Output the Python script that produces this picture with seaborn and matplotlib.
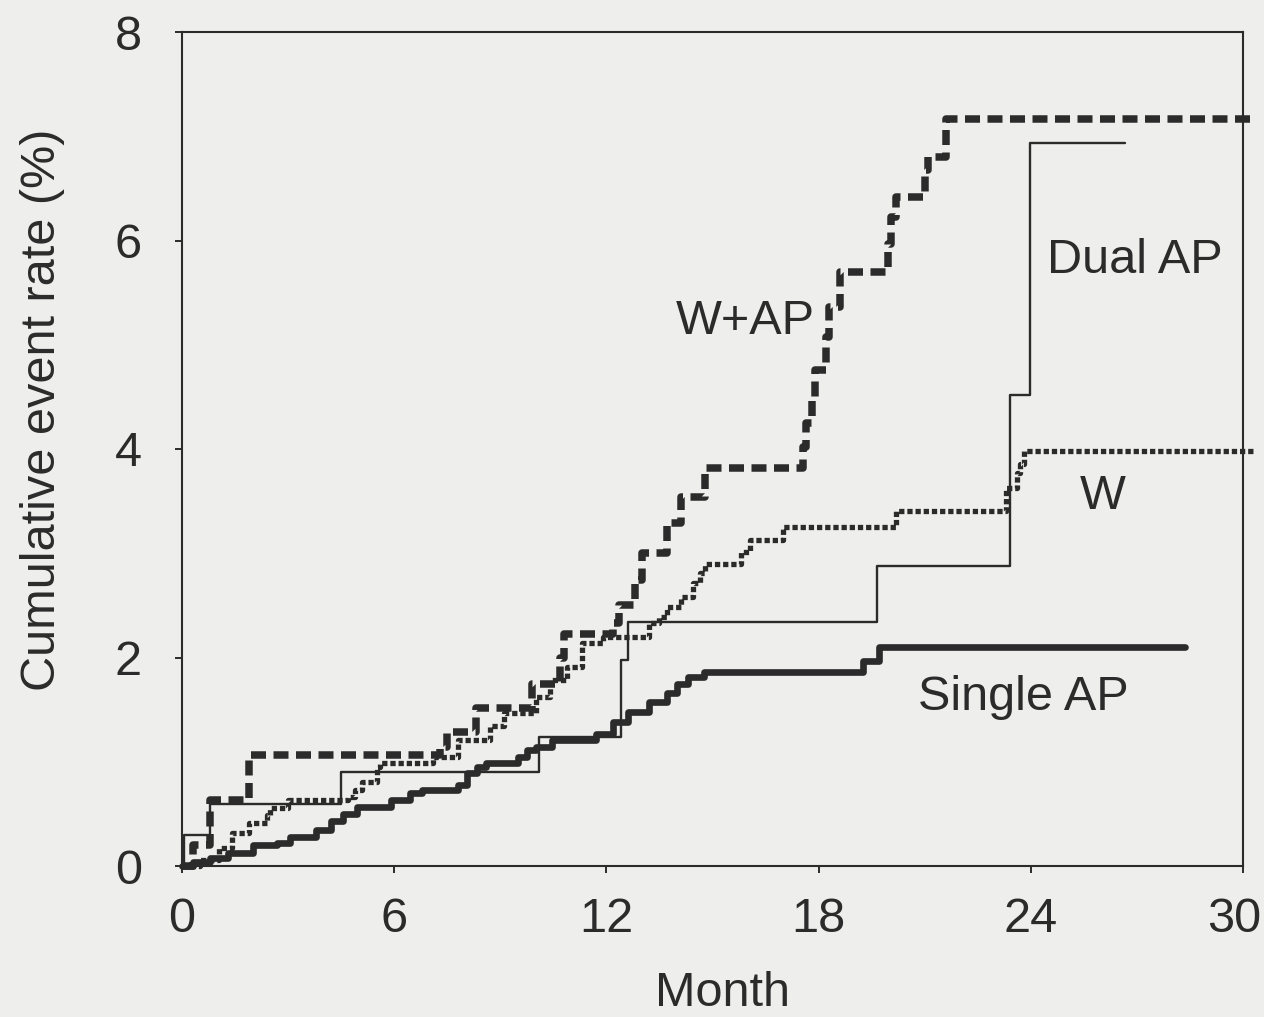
import matplotlib
matplotlib.use("Agg")
import matplotlib.pyplot as plt
import matplotlib.transforms as mtransforms
import seaborn as sns
import pandas as pd

# ---- data ----
wap_month = [0, 0.3, 0.8, 1.9, 7.3, 7.5, 8.3, 9.9, 10.7, 10.8, 12.2, 12.35, 12.8, 13.0,
             13.7, 14.1, 14.8, 17.55, 17.65, 17.8, 17.9, 18.2, 18.3, 18.6, 19.95, 20.05,
             20.2, 21.0, 21.1, 21.6, 30.3]
wap_rate = [0, 0.2, 0.63, 1.06, 1.14, 1.29, 1.52, 1.75, 2.0, 2.23, 2.33, 2.5, 2.74, 3.0,
            3.29, 3.54, 3.82, 4.02, 4.25, 4.47, 4.76, 5.07, 5.36, 5.7, 5.97, 6.23,
            6.42, 6.68, 6.8, 7.17, 7.17]

w_month = [0, 0.5, 1.05, 1.4, 1.9, 2.4, 2.5, 3.0, 4.7, 4.9, 5.1, 5.5, 5.6, 7.1, 7.8, 8.7,
           9.1, 10.0, 10.4, 10.9, 11.3, 11.9, 13.2, 13.5, 13.7, 14.1, 14.45, 14.65, 14.8,
           15.8, 16.05, 17.0, 20.2, 23.3, 23.6, 23.7, 23.8, 30.3]
w_rate = [0, 0.06, 0.17, 0.32, 0.41, 0.49, 0.56, 0.63, 0.66, 0.73, 0.81, 0.95, 0.99, 1.05,
          1.21, 1.34, 1.47, 1.62, 1.78, 1.91, 2.14, 2.2, 2.33, 2.39, 2.48, 2.58, 2.71, 2.81,
          2.9, 3.01, 3.13, 3.25, 3.41, 3.63, 3.77, 3.86, 3.98, 3.98]

dual_month = [0, 0.05, 0.8, 4.5, 10.1, 12.4, 12.6, 19.65, 23.4, 23.97, 26.65]
dual_rate = [0, 0.3, 0.59, 0.9, 1.24, 1.98, 2.34, 2.88, 4.52, 6.94, 6.94]

single_month = [0, 0.3, 0.8, 1.3, 2.0, 2.7, 3.05, 3.8, 4.2, 4.55, 4.95, 5.9, 6.45, 6.8,
                7.8, 8.05, 8.35, 8.6, 9.5, 9.75, 10.0, 10.45, 11.7, 12.2, 12.6, 13.2,
                13.7, 14.0, 14.3, 14.75, 19.25, 19.7, 28.35]
single_rate = [0, 0.04, 0.08, 0.12, 0.2, 0.22, 0.28, 0.35, 0.43, 0.5, 0.57, 0.63, 0.7,
               0.73, 0.78, 0.89, 0.95, 0.99, 1.05, 1.11, 1.14, 1.21, 1.27, 1.38, 1.48,
               1.57, 1.66, 1.75, 1.81, 1.86, 1.97, 2.1, 2.1]

x_ticks = [0, 6, 12, 18, 24, 30]
y_ticks = [0, 2, 4, 6, 8]

# ---- style ----
sns.set_theme(style="ticks")
plt.rcParams["font.family"] = ["Liberation Sans", "DejaVu Sans"]
ink = "#2b2b2b"
paper = "#eeeeec"
fs = 35

fig = plt.figure(figsize=(12.64, 10.17), dpi=100, facecolor=paper)
ax = fig.add_axes([182 / 1264, 1 - 866 / 1017, (1243 - 182) / 1264, (866 - 32) / 1017])
ax.set_facecolor(paper)

series = [
    ("W+AP", wap_month, wap_rate, dict(lw=5.4, linestyle=(0, (2.0, 1.0)))),
    ("W", w_month, w_rate, dict(lw=3.8, linestyle=(0, (1.0, 0.55)))),
    ("Dual AP", dual_month, dual_rate, dict(lw=1.7, linestyle="-")),
    ("Single AP", single_month, single_rate, dict(lw=4.8, linestyle="-")),
]
for name, m, r, kw in series:
    df = pd.DataFrame({"Month": m, "Rate": r})
    sns.lineplot(data=df, x="Month", y="Rate", ax=ax, estimator=None, sort=False,
                 drawstyle="steps-post", color=ink, clip_on=False, **kw)

ax.set_xlim(0, 30)
ax.set_ylim(0, 8)
ax.set_xticks(x_ticks)
ax.set_yticks(y_ticks)
ax.set_xticklabels([str(t) for t in x_ticks])
ax.set_yticklabels([str(t) for t in y_ticks])

for s in ax.spines.values():
    s.set_visible(True)
    s.set_color(ink)
    s.set_linewidth(1.5)

ax.tick_params(axis="both", direction="out", length=5, width=1.4, color=ink,
               labelsize=fs, labelcolor=ink)
ax.tick_params(axis="x", pad=17)
ax.tick_params(axis="y", pad=24)

# the last x tick label sits a little left of its tick in the reference
last = ax.get_xticklabels()[-1]
last.set_transform(last.get_transform() +
                   mtransforms.ScaledTranslation(-9 / 100, 0, fig.dpi_scale_trans))

ax.set_xlabel("Month", fontsize=fs, color=ink)
ax.set_ylabel("Cumulative event rate (%)", fontsize=fs, color=ink)
ax.yaxis.set_label_coords(-0.110, 0.547)

# place "Month" as low as the reference while keeping its full box inside the figure
xl_y = -0.133
ax.xaxis.set_label_coords(0.509, xl_y)
fig.canvas.draw()
bb = ax.xaxis.label.get_window_extent(fig.canvas.get_renderer())
if bb.y0 < 1:
    axes_h_px = ax.get_window_extent().height
    xl_y += (1 - bb.y0) / axes_h_px
    ax.xaxis.set_label_coords(0.509, xl_y)

lab = dict(fontsize=fs, color=ink, ha="center", va="center")
ax.text(15.92, 5.22, "W+AP", **lab)
ax.text(26.94, 5.81, "Dual AP", **lab)
ax.text(26.04, 3.54, "W", **lab)
ax.text(23.78, 1.62, "Single AP", **lab)

fig.savefig("out.png", dpi=100, facecolor=paper)
